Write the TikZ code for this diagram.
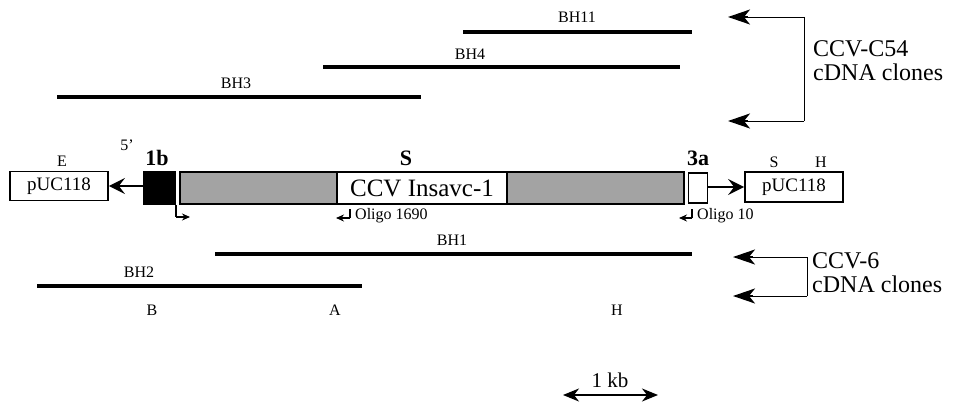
\documentclass[tikz,border=0pt]{standalone}
\usepackage{fontspec}
\setmainfont{Liberation Serif}
\usetikzlibrary{arrows.meta,calc}
\newcommand{\fs}[1]{\fontsize{#1}{#1}\selectfont}
\begin{document}
\begin{tikzpicture}[x=1pt,y=-1pt,
  clone/.style={line width=3.8pt},
  lbl/.style={font=\fs{16}, inner sep=0pt},
  bigl/.style={font=\fontsize{24}{24}\selectfont, inner sep=0pt, anchor=base west, align=left},
  gene/.style={font=\bfseries\fs{22}, inner sep=0pt},
  pbox/.style={draw, line width=1.8pt, inner sep=0pt, font=\fs{19}},
  brk/.style={line width=0.7pt},
  bigtip/.style={-{Stealth[length=22pt,width=15pt,inset=6pt]}, line width=1.8pt},
  midtip/.style={-{Stealth[length=16pt,width=16pt,inset=6pt]}, line width=2pt},
  oli/.style={font=\fs{16}, inner sep=0pt, anchor=west}
]
\useasboundingbox (0,0) rectangle (954,404);

% CCV-C54 clones
\coordinate (bh11a) at (463,32); \coordinate (bh11b) at (692,32);
\draw[clone] (bh11a) -- (bh11b);
\node[lbl] (l11) at (577,17) {BH11};
\coordinate (bh4a) at (323,67); \coordinate (bh4b) at (680,67);
\draw[clone] (bh4a) -- (bh4b);
\node[lbl] (l4) at (470,54) {BH4};
\coordinate (bh3a) at (57,97); \coordinate (bh3b) at (421,97);
\draw[clone] (bh3a) -- (bh3b);
\node[lbl] (l3) at (236,83) {BH3};

% bracket C54
\coordinate (c1) at (804,17); \coordinate (c2) at (804,121);
\coordinate (t1) at (728,17); \coordinate (t2) at (728,121);
\draw[brk] (c1) -- (c2);
\draw[brk] (c1) -- ($(t1)+(16,0)$);
\draw[brk] (c2) -- ($(t2)+(16,0)$);
\draw[bigtip] ($(t1)+(20,0)$) -- (t1);
\draw[bigtip] ($(t2)+(20,0)$) -- (t2);
\node[bigl] (c54) at (813,81) {CCV-C54\\cDNA clones};

% main row
\node[pbox, minimum width=98pt, minimum height=29pt] (puc1) at (59,186) {pUC118};
\node[lbl] (E) at (62,161) {E};
\node[draw, fill=black, line width=1pt, minimum width=32pt, minimum height=33pt, inner sep=0pt] (b1) at (159,188) {};
\draw[midtip] (b1.west |- puc1.east) -- (puc1.east);
\node[font=\fs{16}, inner sep=0pt] (five) at (127,145) {5'};
\node[gene] (g1b) at (157,158) {1b};
\node[draw, line width=1.8pt, fill=black!36, minimum width=504pt, minimum height=32pt, inner sep=0pt] (S) at (432,188) {};
\node[draw, line width=1.5pt, fill=white, minimum width=170pt, minimum height=32pt, inner sep=0pt, font=\fs{25}] (ins) at (422,188) {CCV Insavc-1};
\node[gene] (gS) at (406,158) {S};
\node[draw, line width=1.5pt, fill=white, minimum width=19pt, minimum height=30pt, inner sep=0pt] (b3a) at (698,188) {};
\node[gene] (g3a) at (698,158) {3a};
\node[pbox, minimum width=98pt, minimum height=30pt] (puc2) at (794,187) {pUC118};
\draw[midtip] (b3a.east |- puc2.west) -- (puc2.west);
\node[lbl] (Sr) at (774,162) {S};
\node[lbl] (Hr) at (821,162) {H};

% transcription start arrow
\coordinate (ts0) at (176,205); \coordinate (ts1) at (176,217); \coordinate (ts2) at (190,217);
\draw[line width=1.1pt] (ts0) -- (ts1);
\draw[line width=1.1pt, -{Stealth[length=8pt,width=7pt]}] (ts1) -- (ts2);

% oligos
\coordinate (o1a) at (350,209); \coordinate (o1b) at (350,218); \coordinate (o1c) at (336,218);
\draw[line width=1.1pt] (o1a) -- (o1b);
\draw[line width=1.1pt, -{Stealth[length=8pt,width=7pt]}] (o1b) -- (o1c);
\node[oli] (ol1) at (355,216) {Oligo 1690};
\coordinate (o2a) at (692,209); \coordinate (o2b) at (692,218); \coordinate (o2c) at (679,218);
\draw[line width=1.1pt] (o2a) -- (o2b);
\draw[line width=1.1pt, -{Stealth[length=8pt,width=7pt]}] (o2b) -- (o2c);
\node[oli] (ol2) at (697,216) {Oligo 10};

% CCV-6 clones
\coordinate (bh1a) at (215,254); \coordinate (bh1b) at (692,254);
\draw[clone] (bh1a) -- (bh1b);
\node[lbl] (l1) at (452,240) {BH1};
\coordinate (bh2a) at (37,286); \coordinate (bh2b) at (362,286);
\draw[clone] (bh2a) -- (bh2b);
\node[lbl] (l2) at (139,272) {BH2};

% bracket CCV-6
\coordinate (d1) at (807,257); \coordinate (d2) at (807,296);
\coordinate (u1) at (733,257); \coordinate (u2) at (733,296);
\draw[brk] (d1) -- (d2);
\draw[brk] (d1) -- ($(u1)+(16,0)$);
\draw[brk] (d2) -- ($(u2)+(16,0)$);
\draw[bigtip] ($(u1)+(20,0)$) -- (u1);
\draw[bigtip] ($(u2)+(20,0)$) -- (u2);
\node[bigl] (c6) at (812,292) {CCV-6\\cDNA clones};

% restriction sites
\node[lbl] (B) at (152,310) {B};
\node[lbl] (A) at (335,310) {A};
\node[lbl] (H) at (617,310) {H};

% scale
\coordinate (k1) at (563,395); \coordinate (k2) at (658,395);
\draw[line width=1.6pt, {Stealth[length=16pt,width=13pt,inset=5pt]}-{Stealth[length=16pt,width=13pt,inset=5pt]}] (k1) -- (k2);
\node[font=\fs{21}, inner sep=0pt] (kb) at (610,380) {1 kb};
\end{tikzpicture}
\end{document}
